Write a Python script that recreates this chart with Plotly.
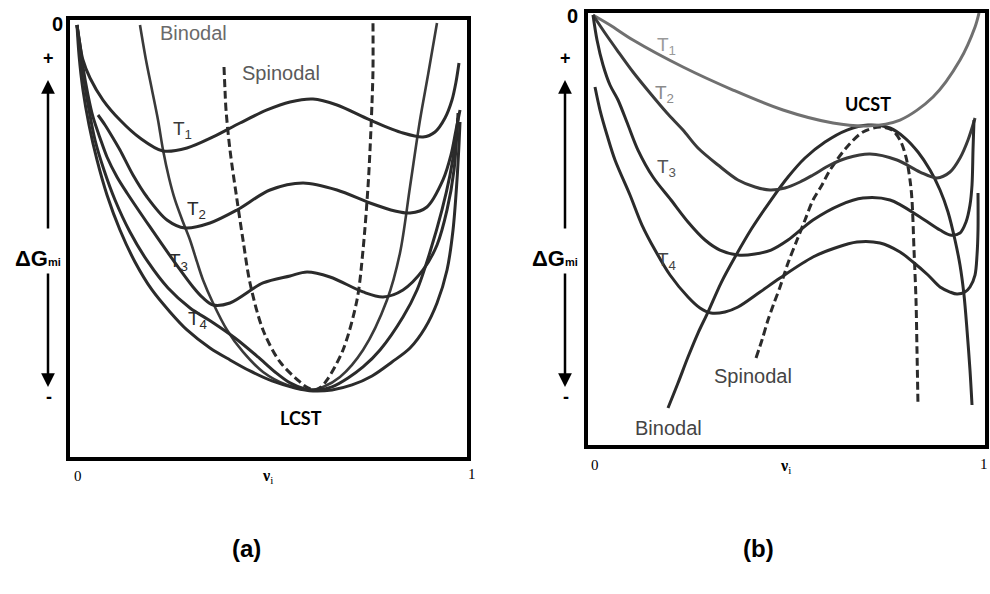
import plotly.graph_objects as go

# ---------------- data (composition in %, dG in arbitrary units, 0 = top) ----------------
# Panel (a) LCST
a_T1_x = [1.76, 2.52, 3.27, 5.04, 8.31, 12.59, 17.63, 23.43, 29.47, 36.02, 42.82, 49.62, 55.42, 61.21, 67.25, 75.57, 83.88, 88.92, 91.94, 94.46, 96.22, 97.23, 97.98]
a_T1_y = [-1.14, -5.72, -9.15, -13.27, -18.31, -22.88, -27.0, -29.98, -29.29, -26.77, -23.57, -20.59, -18.76, -18.08, -19.45, -22.88, -25.86, -26.77, -25.63, -22.43, -18.31, -14.19, -9.84]
a_T2_x = [7.05, 8.82, 10.83, 12.59, 15.87, 19.40, 24.43, 28.97, 35.26, 42.07, 50.38, 58.69, 67.25, 75.57, 81.86, 85.64, 89.92, 93.95, 95.97, 97.23, 98.24]
a_T2_y = [-21.74, -24.02, -27.0, -29.74, -35.46, -40.50, -45.76, -47.59, -46.45, -43.47, -38.9, -37.29, -38.9, -41.87, -43.7, -44.16, -42.79, -36.61, -30.89, -25.17, -20.59]
a_T3_x = [1.76, 2.52, 3.27, 4.53, 5.79, 7.56, 9.32, 11.84, 14.36, 20.15, 25.95, 30.99, 33.51, 36.02, 40.30, 48.62, 55.42, 59.70, 65.49, 73.81, 78.85, 83.88, 88.92, 92.45, 94.97, 96.73, 97.74]
a_T3_y = [-1.14, -5.72, -10.75, -17.16, -22.19, -27.0, -31.35, -35.92, -39.58, -47.36, -54.91, -61.09, -63.61, -65.21, -64.75, -60.17, -58.57, -57.66, -58.80, -62.23, -63.38, -61.78, -57.2, -51.48, -43.47, -34.32, -21.28]
a_T4_x = [1.76, 2.52, 3.53, 4.79, 6.30, 8.56, 11.34, 15.11, 19.65, 24.69, 30.23, 35.77, 41.56, 47.36, 51.64, 55.42, 59.20, 62.47, 65.99, 70.03, 73.81, 78.09, 83.88, 87.41, 90.68, 93.70, 95.72, 96.98, 97.74]
a_T4_y = [-1.14, -6.86, -13.73, -20.59, -27.46, -34.32, -41.18, -48.51, -55.37, -61.32, -65.89, -69.1, -72.76, -77.11, -80.54, -83.05, -84.43, -84.66, -83.97, -81.91, -79.39, -75.50, -67.95, -61.78, -53.08, -43.47, -35.46, -28.60, -22.42]
a_Tc_x = [1.76, 2.27, 3.27, 4.79, 6.80, 9.32, 12.59, 16.37, 20.66, 25.19, 29.47, 35.26, 40.30, 45.34, 50.88, 56.68, 61.21, 65.99, 71.04, 76.07, 81.11, 85.65, 89.42, 92.45, 94.97, 96.48, 97.48, 97.98, 98.24]
a_Tc_y = [-1.14, -8.01, -16.02, -24.02, -32.03, -40.04, -48.05, -55.37, -61.78, -66.81, -70.93, -75.05, -77.79, -80.31, -82.60, -84.20, -84.89, -84.66, -83.51, -81.45, -78.25, -75.05, -70.47, -64.75, -57.2, -48.05, -36.61, -28.6, -23.34]
a_bin_x = [17.63, 19.14, 20.66, 22.17, 23.43, 24.94, 26.45, 28.46, 30.23, 31.99, 33.51, 36.02, 39.55, 43.58, 48.62, 54.66, 60.46, 63.73, 68.01, 73.81, 79.85, 83.12, 85.64, 88.16, 90.18, 92.44]
a_bin_y = [-1.14, -9.15, -16.02, -22.88, -29.74, -36.15, -41.18, -46.22, -50.34, -55.37, -59.49, -64.75, -70.93, -75.96, -80.54, -83.52, -84.66, -83.97, -81.68, -75.5, -64.06, -53.31, -38.21, -22.88, -12.58, -0.69]
a_spi_x = [38.79, 39.04, 39.30, 40.30, 42.07, 43.58, 45.34, 48.62, 52.90, 57.93, 59.95, 61.71, 63.23, 64.74, 68.77, 72.29, 73.81, 75.06, 75.57, 76.07, 76.32, 76.32]
a_spi_y = [-10.75, -16.02, -20.59, -29.74, -41.18, -50.34, -60.17, -70.93, -78.25, -82.83, -84.20, -84.66, -83.97, -82.37, -75.5, -64.06, -52.62, -38.21, -29.74, -18.99, -11.44, -0.69]

# Panel (b) UCST
b_T1_x = [1.26, 5.54, 11.34, 23.93, 36.53, 49.12, 61.72, 70.28, 78.59, 86.91, 93.71, 97.49, 98.49]
b_T1_y = [-0.46, -2.78, -6.25, -12.50, -17.83, -22.46, -25.47, -26.16, -24.77, -19.45, -10.88, -3.24, 0.0]
b_T2_x = [1.26, 4.28, 7.31, 11.34, 15.62, 19.90, 23.93, 27.71, 32.75, 37.78, 42.07, 45.85, 49.62, 53.40, 56.68, 60.96, 65.24, 71.03, 77.83, 83.63, 87.91, 91.19, 93.71, 95.72, 97.49]
b_T2_y = [-0.46, -4.63, -8.57, -13.66, -18.52, -23.15, -27.09, -31.25, -35.19, -38.66, -40.28, -40.98, -40.51, -39.12, -37.50, -35.19, -33.57, -32.64, -34.03, -36.81, -38.20, -36.81, -33.57, -29.40, -24.31]
b_T3_x = [1.26, 2.27, 3.78, 5.54, 7.56, 10.08, 12.59, 16.37, 20.91, 25.19, 29.47, 33.25, 37.78, 42.07, 46.10, 50.38, 56.68, 63.48, 69.27, 76.07, 83.63, 88.67, 91.19, 93.70, 95.22, 96.22, 96.73, 96.98, 97.23]
b_T3_y = [-0.46, -6.25, -12.04, -16.67, -20.14, -25.93, -31.72, -37.97, -43.29, -48.38, -52.55, -54.87, -56.02, -55.79, -54.87, -52.55, -47.92, -44.45, -42.83, -43.29, -47.23, -50.24, -51.39, -50.93, -48.38, -44.45, -39.82, -31.72, -24.77]
b_T4_x = [1.76, 3.02, 4.79, 6.80, 10.58, 13.60, 16.88, 20.66, 25.19, 28.21, 30.98, 34.51, 37.78, 43.33, 48.37, 56.68, 62.22, 67.76, 73.55, 78.59, 81.86, 85.64, 88.67, 91.19, 92.95, 94.96, 96.22, 97.48, 97.99, 98.24, 98.24]
b_T4_y = [-17.13, -22.46, -28.24, -34.03, -42.13, -49.08, -54.87, -60.65, -65.75, -68.29, -69.45, -69.22, -68.06, -64.59, -61.35, -56.49, -54.40, -53.01, -53.25, -55.33, -57.64, -60.65, -63.43, -64.59, -65.05, -64.59, -63.43, -60.65, -56.02, -50.24, -41.67]
b_bin_x = [20.15, 22.67, 25.19, 27.71, 30.23, 33.50, 37.03, 41.31, 46.10, 50.38, 54.66, 59.70, 65.24, 70.53, 76.07, 79.85, 83.12, 86.15, 88.67, 90.68, 92.44, 93.70, 94.71, 95.47, 96.22, 96.73]
b_bin_y = [-91.44, -85.66, -79.64, -74.08, -69.22, -62.51, -56.49, -49.77, -43.29, -37.97, -33.57, -29.86, -27.09, -25.93, -26.62, -28.94, -32.18, -36.35, -40.98, -46.07, -52.55, -58.34, -65.28, -73.39, -82.65, -90.75]
b_spi_x = [42.32, 43.83, 45.34, 46.85, 48.37, 50.38, 52.65, 54.66, 56.68, 58.94, 60.96, 65.24, 69.27, 73.55, 76.57, 78.59, 80.10, 81.11, 81.61, 82.12, 82.62, 82.87, 83.12]
b_spi_y = [-79.87, -75.70, -71.07, -67.14, -63.43, -57.88, -52.55, -47.92, -43.29, -39.82, -36.35, -31.02, -27.55, -26.39, -27.09, -29.40, -33.34, -38.66, -43.29, -54.87, -66.44, -78.02, -90.75]

# ---------------- figure ----------------
W, H = 990, 594
fig = go.Figure()

DARK = "#2b2b2b"


def line(x, y, xa, ya, color=DARK, width=3, dash="solid"):
    fig.add_trace(go.Scatter(x=x, y=y, xaxis=xa, yaxis=ya, mode="lines",
                             line=dict(color=color, width=width, dash=dash, shape="spline", smoothing=0.9),
                             hoverinfo="skip", showlegend=False))


# panel (a)
line(a_bin_x, a_bin_y, "x", "y", color="#3a3a3a", width=2.6)
line(a_spi_x, a_spi_y, "x", "y", color="#2b2b2b", width=3, dash="8px,4px")
line(a_T1_x, a_T1_y, "x", "y")
line(a_T2_x, a_T2_y, "x", "y")
line(a_T3_x, a_T3_y, "x", "y")
line(a_T4_x, a_T4_y, "x", "y")
line(a_Tc_x, a_Tc_y, "x", "y")

# panel (b)
line(b_bin_x, b_bin_y, "x2", "y2", color="#2b2b2b", width=3)
line(b_spi_x, b_spi_y, "x2", "y2", color="#2b2b2b", width=3, dash="8px,4px")
line(b_T1_x, b_T1_y, "x2", "y2", color="#707070")
line(b_T2_x, b_T2_y, "x2", "y2", color="#3a3a3a")
line(b_T3_x, b_T3_y, "x2", "y2")
line(b_T4_x, b_T4_y, "x2", "y2")

axis_common = dict(range=[0, 100], showgrid=False, zeroline=False, showticklabels=False, ticks="",
                   showline=True, mirror=True, linecolor="black", linewidth=4, fixedrange=True)
yaxis_common = dict(axis_common, range=[-100, 0])

fig.update_layout(
    width=W, height=H, margin=dict(l=0, r=0, t=0, b=0),
    paper_bgcolor="white", plot_bgcolor="white",
    xaxis=dict(axis_common, domain=[70 / W, 467 / W]),
    yaxis=dict(yaxis_common, domain=[1 - 457 / H, 1 - 20 / H]),
    xaxis2=dict(axis_common, domain=[588 / W, 985 / W], anchor="y2"),
    yaxis2=dict(yaxis_common, domain=[1 - 445 / H, 1 - 13 / H], anchor="x2"),
)

SANS = "Liberation Sans, Arial, sans-serif"
SERIF = "Liberation Serif, Times New Roman, serif"
CAL = "Lato, Open Sans, sans-serif"


def P(px, py):
    return px / W, 1 - py / H


def txt(px, py, text, size=16, color="black", family=SANS):
    x, y = P(px, py)
    fig.add_annotation(x=x, y=y, xref="paper", yref="paper", text=text, showarrow=False,
                       font=dict(size=size, color=color, family=family), xanchor="center", yanchor="middle")


def arrow(px, py_from, py_to):
    x1, y1 = P(px, py_to)
    fig.add_annotation(x=x1, y=y1, ax=0, ay=py_from - py_to, xref="paper", yref="paper",
                       axref="pixel", ayref="pixel",
                       text="", showarrow=True, arrowhead=2, arrowsize=1.1, arrowwidth=2.5, arrowcolor="black")


def side_scale(cx, top0_x, top0_y, lab_x):
    txt(top0_x, top0_y, "<b>0</b>", size=20)
    txt(cx, 58, "<b>+</b>", size=18)
    arrow(cx, 230, 80)
    arrow(cx, 272, 387)
    txt(cx + 1, 397, "<b>-</b>", size=18)
    txt(lab_x, 258, "<b>ΔG</b><span style='font-size:11px'><b>mi</b></span>", size=22)


# panel (a) decorations
side_scale(48, 57, 24, 38)
txt(78, 476, "0", size=15, family=SERIF)
txt(267, 476, "<b>ν</b><sub>i</sub>", size=16, family=SERIF)
txt(472, 474, "1", size=15, family=SERIF)
txt(193, 33, "Binodal", size=20, color="#6a6a6a")
txt(281, 73, "Spinodal", size=20, color="#5a5a5a")
txt(182, 130, "T<sub>1</sub>", size=19, color="#3a3a3a")
txt(196, 210, "T<sub>2</sub>", size=19, color="#2b2b2b")
txt(178, 262, "T<sub>3</sub>", size=19, color="#2b2b2b")
txt(197, 320, "T<sub>4</sub>", size=19, color="#2b2b2b")
txt(301, 418, "<b>LCST</b>", size=18, family=CAL)

# panel (b) decorations
side_scale(565, 572, 16, 555)
txt(595, 465, "0", size=15, family=SERIF)
txt(785, 466, "<b>ν</b><sub>i</sub>", size=16, family=SERIF)
txt(984, 464, "1", size=15, family=SERIF)
txt(666, 46, "T<sub>1</sub>", size=19, color="#9a9a9a")
txt(664, 94, "T<sub>2</sub>", size=19, color="#8a8a8a")
txt(666, 168, "T<sub>3</sub>", size=19, color="#555555")
txt(666, 261, "T<sub>4</sub>", size=19, color="#444444")
txt(868, 104, "<b>UCST</b>", size=18, family=CAL)
txt(753, 376, "Spinodal", size=20, color="#444444")
txt(668, 428, "Binodal", size=20, color="#444444")

# captions
txt(246, 548, "<b>(a)</b>", size=24)
txt(758, 548, "<b>(b)</b>", size=24)

fig.write_html("out.html")
